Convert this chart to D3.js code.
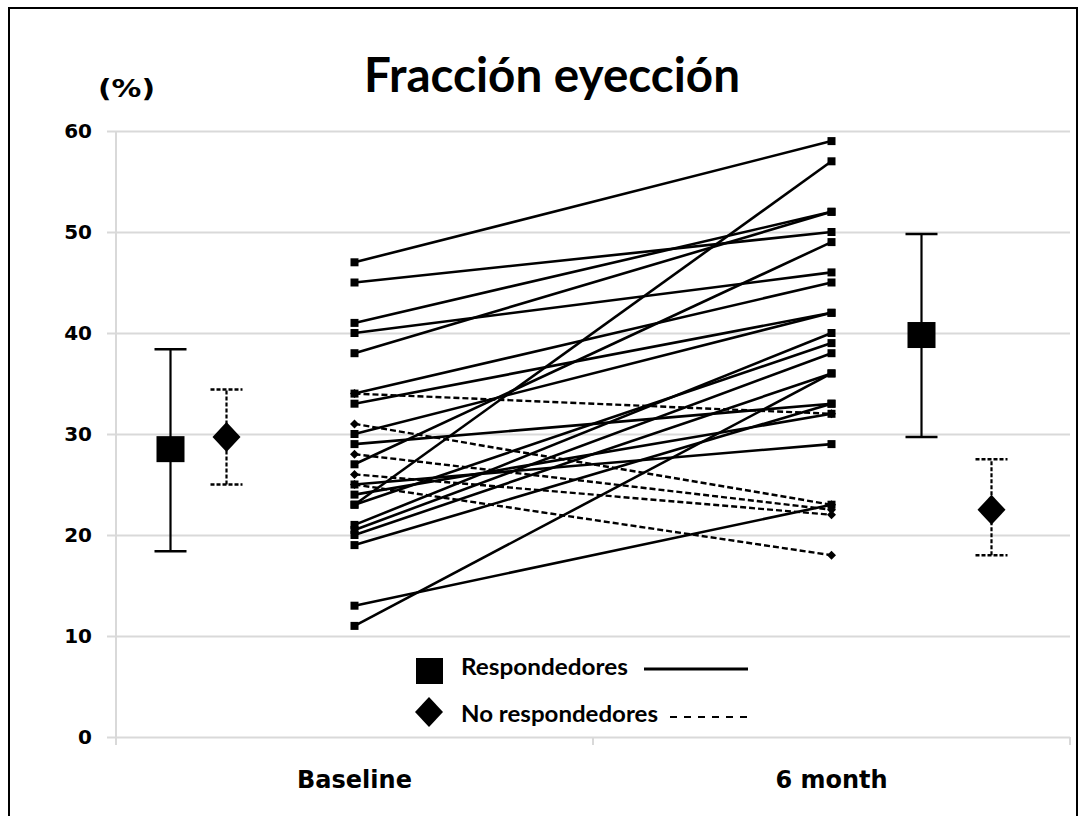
<!DOCTYPE html>
<html>
<head>
<meta charset="utf-8">
<script src="https://cdn.jsdelivr.net/npm/d3@7"></script>
<style>
  body { margin: 0; background: #fff; }
  svg { display: block; }
</style>
</head>
<body>
<div id="graph"></div>
<script>

var categories = ["Baseline", "6 month"];
var yTicks = [0, 10, 20, 30, 40, 50, 60];

// individual patients (baseline -> 6 month)
var respBaseline = [47, 45, 41, 40, 38, 34, 33, 30, 29, 27, 25, 24, 23, 23, 21, 20.5, 20, 19, 13, 11];
var resp6m       = [59, 50, 52, 46, 52, 45, 42, 42, 33, 49, 29, 32, 57, 39, 40, 38, 36, 33, 23, 36];
var nonBaseline  = [34, 31, 28, 26, 25];
var non6m        = [32, 23, 22.5, 22, 18];

// group summaries (baseline, 6 month)
var respMean = [28.5, 39.8];
var respLow  = [18.4, 29.7];
var respHigh = [38.4, 49.8];
var nonMean  = [29.7, 22.5];
var nonLow   = [25.0, 18.0];
var nonHigh  = [34.4, 27.5];

var legendLabels = ["Respondedores", "No respondedores"];

function drawChart() {
    var W = 1085, H = 816;
    var pLeft = 116, pRight = 1070, pTop = 131, pBottom = 737;
    var grid = "#d9d9d9";

    var svg = d3.select("#graph").append("svg")
        .attr("width", W)
        .attr("height", H);

    svg.append("rect").attr("width", W).attr("height", H).attr("fill", "#fff");

    // outer frame
    svg.append("rect")
        .attr("x", 9).attr("y", 8)
        .attr("width", 1068).attr("height", 840)
        .attr("fill", "none")
        .attr("stroke", "#000")
        .attr("stroke-width", 2);

    var y = d3.scaleLinear().domain([0, 60]).range([pBottom, pTop]);
    var x = d3.scaleBand().domain(categories).range([pLeft, pRight]);
    var cx = function(c) { return x(c) + x.bandwidth() / 2; };

    // y axis with gridlines
    var yAxis = svg.append("g")
        .attr("transform", "translate(107,0)")
        .call(d3.axisLeft(y).tickValues(yTicks).tickSizeInner(-(pRight - 107)).tickSizeOuter(0).tickPadding(15));
    yAxis.select(".domain").remove();
    yAxis.selectAll(".tick line").attr("stroke", grid).attr("stroke-width", 2);
    yAxis.selectAll(".tick text")
        .attr("font-family", "DejaVu Sans")
        .attr("font-weight", "bold")
        .attr("font-size", 20)
        .attr("fill", "#000");

    // vertical axis line
    svg.append("line")
        .attr("x1", pLeft).attr("x2", pLeft)
        .attr("y1", pTop).attr("y2", pBottom + 8)
        .attr("stroke", grid).attr("stroke-width", 2);

    // x ticks at band boundaries
    var edges = categories.map(function(c) { return x(c); }).concat([pRight]);
    svg.selectAll(".xtick").data(edges.slice(1)).enter().append("line")
        .attr("x1", function(d) { return d; }).attr("x2", function(d) { return d; })
        .attr("y1", pBottom).attr("y2", pBottom + 8)
        .attr("stroke", grid).attr("stroke-width", 2);

    var xAxis = svg.append("g")
        .attr("transform", "translate(0," + pBottom + ")")
        .call(d3.axisBottom(x).tickSize(0).tickPadding(34));
    xAxis.select(".domain").remove();
    xAxis.selectAll(".tick text")
        .attr("font-family", "DejaVu Sans")
        .attr("font-weight", "bold")
        .attr("font-size", 24)
        .attr("fill", "#000");

    // title
    svg.append("text")
        .attr("x", 552).attr("y", 92)
        .attr("text-anchor", "middle")
        .attr("font-family", "Lato")
        .attr("font-weight", "bold")
        .attr("font-size", 47)
        .attr("textLength", 376)
        .attr("lengthAdjust", "spacingAndGlyphs")
        .text("Fracción eyección");

    svg.append("text")
        .attr("x", 98).attr("y", 97)
        .attr("font-family", "DejaVu Sans")
        .attr("font-weight", "bold")
        .attr("font-size", 24)
        .attr("textLength", 57)
        .attr("lengthAdjust", "spacingAndGlyphs")
        .text("(%)");

    var x0 = cx(categories[0]), x1 = cx(categories[1]);

    // patient lines
    var plot = svg.append("g");

    var respPairs = respBaseline.map(function(b, i) { return [b, resp6m[i]]; });
    var nonPairs = nonBaseline.map(function(b, i) { return [b, non6m[i]]; });

    plot.selectAll(".nonline").data(nonPairs).enter().append("line")
        .attr("x1", x0).attr("y1", function(d) { return y(d[0]); })
        .attr("x2", x1).attr("y2", function(d) { return y(d[1]); })
        .attr("stroke", "#000").attr("stroke-width", 2.4)
        .attr("stroke-dasharray", "6,3");

    plot.selectAll(".respline").data(respPairs).enter().append("line")
        .attr("x1", x0).attr("y1", function(d) { return y(d[0]); })
        .attr("x2", x1).attr("y2", function(d) { return y(d[1]); })
        .attr("stroke", "#000").attr("stroke-width", 2.6);

    var dsmall = function(s) { return "M0," + (-s) + "L" + s + ",0L0," + s + "L" + (-s) + ",0Z"; };

    [[x0, 0], [x1, 1]].forEach(function(p) {
        plot.selectAll(null).data(nonPairs).enter().append("path")
            .attr("d", dsmall(4.5))
            .attr("transform", function(d) { return "translate(" + p[0] + "," + y(d[p[1]]) + ")"; })
            .attr("fill", "#000");
        plot.selectAll(null).data(respPairs).enter().append("rect")
            .attr("x", p[0] - 4).attr("y", function(d) { return y(d[p[1]]) - 4; })
            .attr("width", 8).attr("height", 8)
            .attr("fill", "#000");
    });

    // summary error bars
    var respOffset = [-184, 90];
    var nonOffset = [-128, 160];

    categories.forEach(function(c, i) {
        var rx = cx(c) + respOffset[i];
        var g = svg.append("g");
        g.append("line")
            .attr("x1", rx).attr("x2", rx)
            .attr("y1", y(respLow[i])).attr("y2", y(respHigh[i]))
            .attr("stroke", "#000").attr("stroke-width", 2.2);
        [respLow[i], respHigh[i]].forEach(function(v) {
            g.append("line")
                .attr("x1", rx - 16).attr("x2", rx + 16)
                .attr("y1", y(v)).attr("y2", y(v))
                .attr("stroke", "#000").attr("stroke-width", 2.5);
        });
        g.append("rect")
            .attr("x", rx - 14).attr("y", y(respMean[i]) - 13)
            .attr("width", 28).attr("height", 26)
            .attr("fill", "#000");

        var nx = cx(c) + nonOffset[i];
        g.append("line")
            .attr("x1", nx).attr("x2", nx)
            .attr("y1", y(nonLow[i])).attr("y2", y(nonHigh[i]))
            .attr("stroke", "#000").attr("stroke-width", 2.2)
            .attr("stroke-dasharray", "4,2");
        [nonLow[i], nonHigh[i]].forEach(function(v) {
            g.append("line")
                .attr("x1", nx - 16).attr("x2", nx + 16)
                .attr("y1", y(v)).attr("y2", y(v))
                .attr("stroke", "#000").attr("stroke-width", 2.5)
                .attr("stroke-dasharray", "4,2");
        });
        g.append("path")
            .attr("d", "M0,-15L14,0L0,15L-14,0Z")
            .attr("transform", "translate(" + nx + "," + y(nonMean[i]) + ")")
            .attr("fill", "#000");
    });

    // legend
    var lg = svg.append("g");
    lg.append("rect").attr("x", 416).attr("y", 658).attr("width", 27).attr("height", 26).attr("fill", "#000");
    lg.append("path").attr("d", "M429,697L443,712L429,727L415,712Z").attr("fill", "#000");

    lg.append("text")
        .attr("x", 461).attr("y", 675)
        .attr("font-family", "Lato").attr("font-weight", "bold").attr("font-size", 22)
        .attr("textLength", 167).attr("lengthAdjust", "spacingAndGlyphs")
        .text(legendLabels[0]);
    lg.append("text")
        .attr("x", 461).attr("y", 722)
        .attr("font-family", "Lato").attr("font-weight", "bold").attr("font-size", 22)
        .attr("textLength", 197).attr("lengthAdjust", "spacingAndGlyphs")
        .text(legendLabels[1]);

    lg.append("line").attr("x1", 644).attr("x2", 748).attr("y1", 669).attr("y2", 669)
        .attr("stroke", "#000").attr("stroke-width", 3);
    lg.append("line").attr("x1", 670).attr("x2", 750).attr("y1", 717).attr("y2", 717)
        .attr("stroke", "#000").attr("stroke-width", 2)
        .attr("stroke-dasharray", "7,7");
}

drawChart();

</script>
</body>
</html>
